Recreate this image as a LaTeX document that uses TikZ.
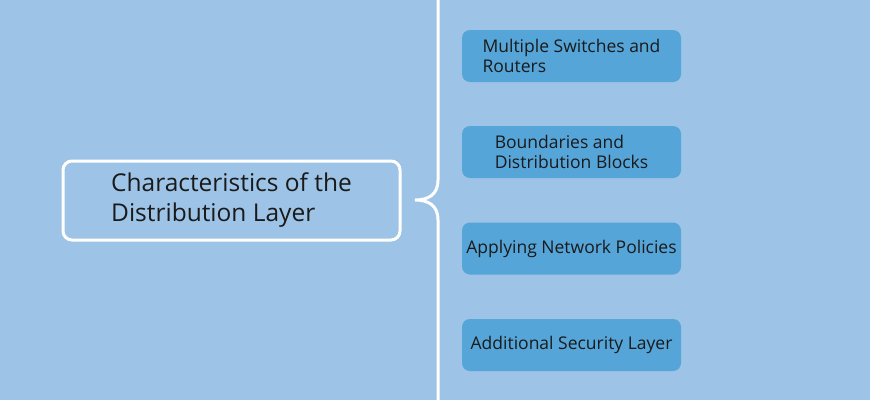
\documentclass[tikz,border=0pt]{standalone}
\usepackage{fontspec}
\setmainfont{Open Sans}
\usepackage{tikz}
\usetikzlibrary{positioning}
\definecolor{bgblue}{HTML}{9DC3E6}
\definecolor{itemblue}{HTML}{55A5D9}
\definecolor{ink}{HTML}{1A1A1A}

\tikzset{
	mainbox/.style={draw=white, line width=3pt, rounded corners=9pt, fill=bgblue,
		minimum width=337pt, minimum height=79pt, align=left, text=ink,
		font=\fontsize{24.5}{30}\selectfont},
	item/.style={fill=itemblue, rounded corners=8pt, minimum width=219pt,
		minimum height=52pt, align=left, text=ink, inner sep=0pt,
		font=\fontsize{17.5}{20}\selectfont},
	brace/.style={draw=white, line width=3pt}
}

\begin{document}
\begin{tikzpicture}[x=1pt, y=-1pt]
		
		\fill[bgblue] (0,0) rectangle (870,400);
		\useasboundingbox (0,0) rectangle (870,400);
		
		\node[mainbox] (main) at (231.5,200.5) {Characteristics of the\\Distribution Layer}; 
		
		\node[item] (i1) at (571.5,56) {Multiple Switches and\\Routers}; 
		
		\node[item] (i2) at (571.5,152) {Boundaries and\\Distribution Blocks}; 
		
		\node[item] (i3) at (571.5,248.5) {Applying Network Policies}; 
		
		\node[item] (i4) at (571.5,345) {Additional Security Layer}; 
		
		\coordinate (top) at (438,0);
		\coordinate (tip) at (415,200);
		\coordinate (bot) at (438,400);
		
		\draw[brace] (top) -- (438,180)
		.. controls (438,195) and (428,200) .. (tip)
		.. controls (428,200) and (438,205) .. (438,220) -- (bot);
		
	\end{tikzpicture}
\end{document}
